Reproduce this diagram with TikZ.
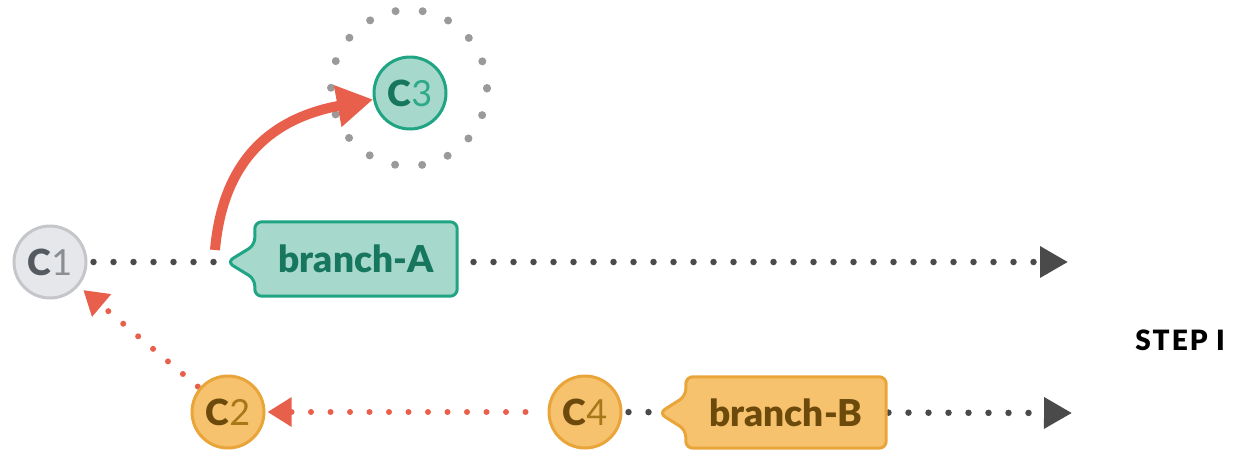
\documentclass[tikz,border=0pt]{standalone}
\usepackage{fontspec}
\setmainfont{Lato}
\newfontfamily\stepfont[LetterSpace=7]{Lato Black}
\newfontfamily\heavyfont{Lato Black}
\usetikzlibrary{arrows.meta,calc}
\definecolor{dotgrey}{HTML}{4A4A4A}
\definecolor{ringgrey}{HTML}{9A9A9A}
\definecolor{redc}{HTML}{E8604C}
\definecolor{cgfill}{HTML}{E6E7EB}
\definecolor{cgdraw}{HTML}{C5C6CA}
\definecolor{cgtext}{HTML}{555A60}
\definecolor{cgnum}{HTML}{8A8D92}
\definecolor{tfill}{HTML}{A6D8CB}
\definecolor{tdraw}{HTML}{1FA484}
\definecolor{ttext}{HTML}{16765E}
\definecolor{tnum}{HTML}{2EA98A}
\definecolor{ofill}{HTML}{F6C26E}
\definecolor{odraw}{HTML}{E9A43A}
\definecolor{otext}{HTML}{6C4A0C}
\definecolor{onum}{HTML}{A77818}
\pgfdeclarelayer{lines}
\pgfdeclarelayer{tagbg}
\pgfsetlayers{lines,tagbg,main}
\begin{document}
\begin{tikzpicture}[x=1pt,y=-1pt,
  commit/.style={circle, minimum size=72pt, inner sep=0pt, line width=3pt,
    font=\fontsize{36}{36}\selectfont},
  greycommit/.style={commit, fill=cgfill, draw=cgdraw},
  tealcommit/.style={commit, fill=tfill, draw=tdraw},
  orcommit/.style={commit, fill=ofill, draw=odraw},
  greydots/.style={line width=6.5pt, line cap=round, dash pattern=on 0pt off 20pt, color=dotgrey},
  reddots/.style={line width=6pt, line cap=round, dash pattern=on 0pt off 19.5pt, color=redc},
  greytip/.style={-{Triangle[length=28pt,width=30pt]}},
  redtip/.style={-{Triangle[length=24pt,width=28pt]}},
  tagtext/.style={rectangle, inner sep=0pt, font=\heavyfont\fontsize{37}{37}\selectfont},
  tagshape/.style={line width=3pt, rounded corners=7pt, line join=round},
]
\useasboundingbox (0,0) rectangle (1243,453);

% commits
\node[greycommit] (c1) at (50,262) {{\heavyfont\color{cgtext}C}{\color{cgnum}1}};
\node[tealcommit] (c3) at (410,93) {{\heavyfont\color{ttext}C}{\color{tnum}3}};
\node[orcommit] (c2) at (228,412) {{\heavyfont\color{otext}C}{\color{onum}2}};
\node[orcommit] (c4) at (585,412) {{\heavyfont\color{otext}C}{\color{onum}4}};

% dotted ring around C3
\node[circle, minimum size=156pt, draw=ringgrey, line width=8pt, line cap=round,
  dash pattern=on 0pt off 27.2pt] (ring) at (409,88) {};

% end points
\coordinate (endA) at (1068,262);
\coordinate (endB) at (1072,413);
\coordinate (rs) at (215,250);
\coordinate (pA) at (227,262);
\coordinate (pB) at (659,413);

% tag text nodes
\node[tagtext, minimum width=202pt, minimum height=74pt, text=ttext] (tA) at (356,259) {branch-A};
\node[tagtext, minimum width=200pt, minimum height=71pt, text=otext] (tB) at (786,412.5) {branch-B};

% tag shapes
\begin{pgfonlayer}{tagbg}
\draw[tagshape, fill=tfill, draw=tdraw] (tA.north) -- (tA.north east) -- (tA.south east) -- (tA.south west)
  -- ($(tA.west |- pA)+(0,17)$) -- (pA) -- ($(tA.west |- pA)+(0,-17)$) -- (tA.north west) -- cycle;
\draw[tagshape, fill=ofill, draw=odraw] (tB.north) -- (tB.north east) -- (tB.south east) -- (tB.south west)
  -- ($(tB.west |- pB)+(0,17)$) -- (pB) -- ($(tB.west |- pB)+(0,-17)$) -- (tB.north west) -- cycle;
\end{pgfonlayer}

% dotted connectors
\begin{pgfonlayer}{lines}
\draw[greydots, greytip, shorten <=6pt] (c1) -- (endA);
\draw[greydots, greytip, shorten <=6pt] (c4) -- (endB);
\draw[reddots, redtip, shorten <=22pt, shorten >=2pt] (c4) -- (c2);
\draw[reddots, redtip, shorten <=2pt, shorten >=6pt] (c2) -- (c1);
\end{pgfonlayer}

% red curved arrow
\draw[line width=10pt, redc, -{Triangle[length=36pt,width=40pt]}]
  (rs) .. controls (222,170) and (262,120) .. (c3.190);

% step label
\node[font=\stepfont\fontsize{28}{28}\selectfont, text=black] (step) at (1180,340) {STEP I};
\end{tikzpicture}
\end{document}
